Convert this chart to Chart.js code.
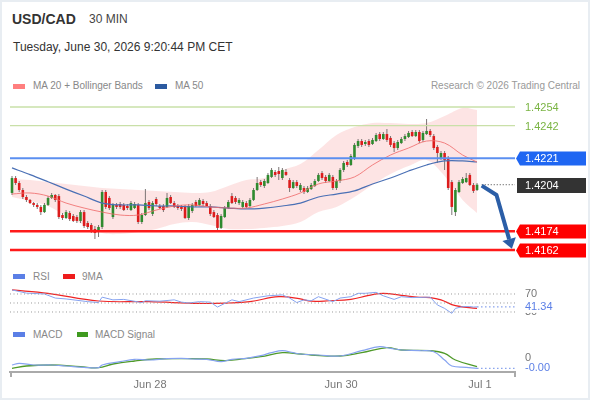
<!DOCTYPE html>
<html><head><meta charset="utf-8">
<script src="https://cdn.jsdelivr.net/npm/chart.js@4.4.1/dist/chart.umd.min.js"></script>
<style>
html,body{margin:0;padding:0;background:#fff;}
body{width:590px;height:400px;position:relative;overflow:hidden;font-family:"Liberation Sans",Arial,sans-serif;}
#frame{position:absolute;left:0;top:0;width:590px;height:400px;box-sizing:border-box;border:2px solid #e8edf2;pointer-events:none;z-index:5;}
.t{position:absolute;white-space:nowrap;line-height:1;}
.sw{position:absolute;width:12px;height:5px;}
canvas{position:absolute;left:0;}
</style></head>
<body>
<div id="frame"></div>
<div class="t" style="left:12px;top:12px;font-size:14px;font-weight:bold;color:#333">USD/CAD</div>
<div class="t" style="left:89px;top:13px;font-size:12px;color:#444">30 MIN</div>
<div class="t" style="left:13px;top:41px;font-size:12px;color:#333">Tuesday, June 30, 2026 9:20:44 PM CET</div>

<div class="sw" style="left:13px;top:84px;background:#ff7f7f"></div>
<div class="t" style="left:33px;top:81px;font-size:10px;color:#888">MA 20 + Bollinger Bands</div>
<div class="sw" style="left:155px;top:84px;background:#2c5aa0"></div>
<div class="t" style="left:175px;top:81px;font-size:10px;color:#888">MA 50</div>
<div class="t" style="right:10px;top:81px;font-size:10px;color:#999">Research © 2026 Trading Central</div>

<div class="sw" style="left:13px;top:274px;background:#5b7fe6"></div>
<div class="t" style="left:33px;top:272px;font-size:10px;color:#888">RSI</div>
<div class="sw" style="left:63px;top:274px;background:#ee1c1c"></div>
<div class="t" style="left:82px;top:272px;font-size:10px;color:#888">9MA</div>

<div class="sw" style="left:13px;top:332px;background:#5b7fe6"></div>
<div class="t" style="left:33px;top:329.5px;font-size:10px;color:#888">MACD</div>
<div class="sw" style="left:77px;top:332px;width:11px;background:#3f9a1f"></div>
<div class="t" style="left:95px;top:329.5px;font-size:10px;color:#888">MACD Signal</div>

<canvas id="main" width="590" height="167" style="top:95px;width:590px;height:167px"></canvas>
<canvas id="rsi" width="590" height="40" style="top:280px;width:590px;height:40px"></canvas>
<canvas id="macd" width="590" height="60" style="top:340px;width:590px;height:60px"></canvas>

<script>
// ---------- data ----------
const opens = [
1.41987,1.42083,1.42051,1.42006,1.41961,1.41942,1.41922,1.41910,1.41897,1.41864,
1.41910,1.41955,1.41974,1.41967,1.41845,1.41826,1.41858,1.41839,1.41832,1.41807,
1.41864,1.41794,1.41781,1.41755,1.41736,1.41768,1.41993,1.41955,1.41832,1.41910,
1.41916,1.41910,1.41903,1.41877,1.41890,1.41910,1.41800,1.41845,1.41929,1.41852,
1.41948,1.41903,1.41903,1.41897,1.41961,1.41922,1.41903,1.41897,1.41897,1.41826,
1.41871,1.41929,1.41910,1.41935,1.41922,1.41903,1.41864,1.41845,1.41762,1.41832,
1.41890,1.41967,1.41955,1.41922,1.41897,1.41922,1.41903,1.41942,1.42006,1.42057,
1.42032,1.42051,1.42090,1.42122,1.42128,1.42083,1.42122,1.42070,1.42019,1.42057,
1.42006,1.42019,1.41993,1.42012,1.42032,1.42064,1.42115,1.42090,1.42064,1.42090,
1.42019,1.42064,1.42135,1.42186,1.42167,1.42212,1.42289,1.42321,1.42302,1.42321,
1.42302,1.42321,1.42366,1.42334,1.42366,1.42341,1.42308,1.42276,1.42308,1.42334,
1.42347,1.42379,1.42353,1.42379,1.42328,1.42366,1.42386,1.42353,1.42283,1.42212,
1.42244,1.42212,1.42057,1.41864,1.41993,1.42051,1.42057,1.42103,1.42038,1.42006];
const highs = [
1.42096,1.42096,1.42064,1.42019,1.41974,1.41948,1.41929,1.41922,1.41910,1.41922,
1.41967,1.41987,1.41980,1.41980,1.41858,1.41877,1.41871,1.41852,1.41845,1.41877,
1.41877,1.41807,1.41794,1.41774,1.41781,1.42006,1.42006,1.41967,1.41922,1.41922,
1.41929,1.41922,1.41916,1.41935,1.41929,1.41922,1.41858,1.42012,1.41942,1.41935,
1.41961,1.41916,1.41916,1.41987,1.41974,1.41935,1.41916,1.41910,1.41910,1.41916,
1.41922,1.41942,1.41955,1.41948,1.41935,1.41916,1.41877,1.41858,1.41852,1.41903,
1.41942,1.41987,1.41967,1.41955,1.41942,1.41935,1.41955,1.42019,1.42090,1.42070,
1.42077,1.42115,1.42148,1.42135,1.42154,1.42148,1.42141,1.42083,1.42070,1.42070,
1.42051,1.42032,1.42032,1.42051,1.42077,1.42115,1.42128,1.42103,1.42115,1.42103,
1.42077,1.42148,1.42193,1.42199,1.42238,1.42308,1.42334,1.42334,1.42328,1.42334,
1.42341,1.42373,1.42379,1.42379,1.42398,1.42353,1.42321,1.42328,1.42347,1.42366,
1.42386,1.42392,1.42392,1.42392,1.42386,1.42463,1.42398,1.42366,1.42296,1.42257,
1.42257,1.42225,1.42070,1.42019,1.42070,1.42090,1.42115,1.42115,1.42051,1.42051];
const lows = [
1.41974,1.42038,1.41993,1.41948,1.41929,1.41916,1.41897,1.41884,1.41845,1.41858,
1.41903,1.41948,1.41929,1.41819,1.41813,1.41819,1.41807,1.41800,1.41794,1.41794,
1.41762,1.41755,1.41729,1.41691,1.41704,1.41755,1.41884,1.41877,1.41819,1.41884,
1.41884,1.41871,1.41877,1.41871,1.41884,1.41787,1.41787,1.41839,1.41877,1.41839,
1.41903,1.41884,1.41864,1.41890,1.41916,1.41890,1.41877,1.41871,1.41819,1.41813,
1.41858,1.41897,1.41903,1.41903,1.41897,1.41839,1.41826,1.41749,1.41755,1.41826,
1.41884,1.41916,1.41916,1.41910,1.41890,1.41890,1.41897,1.41935,1.42000,1.42025,
1.42019,1.42045,1.42083,1.42090,1.42070,1.42070,1.42096,1.41993,1.42012,1.42019,
1.41993,1.41980,1.41987,1.42006,1.42025,1.42057,1.42070,1.42051,1.42057,1.42006,
1.42006,1.42051,1.42122,1.42154,1.42160,1.42199,1.42276,1.42283,1.42289,1.42283,
1.42296,1.42315,1.42321,1.42328,1.42315,1.42283,1.42250,1.42263,1.42302,1.42321,
1.42341,1.42347,1.42347,1.42308,1.42315,1.42360,1.42347,1.42263,1.42180,1.42199,
1.42135,1.42006,1.41845,1.41839,1.41987,1.42045,1.42051,1.42032,1.41987,1.42000];
const closes = [
1.42083,1.42051,1.42006,1.41961,1.41942,1.41922,1.41910,1.41897,1.41864,1.41910,
1.41955,1.41974,1.41942,1.41832,1.41826,1.41864,1.41819,1.41807,1.41807,1.41864,
1.41774,1.41768,1.41749,1.41729,1.41768,1.41993,1.41897,1.41890,1.41910,1.41897,
1.41897,1.41877,1.41890,1.41922,1.41916,1.41800,1.41845,1.41922,1.41890,1.41922,
1.41916,1.41890,1.41877,1.41955,1.41922,1.41897,1.41890,1.41884,1.41826,1.41903,
1.41910,1.41903,1.41942,1.41916,1.41903,1.41852,1.41832,1.41762,1.41839,1.41890,
1.41929,1.41922,1.41929,1.41942,1.41929,1.41897,1.41942,1.42006,1.42051,1.42038,
1.42064,1.42103,1.42135,1.42103,1.42109,1.42135,1.42103,1.42019,1.42057,1.42032,
1.42038,1.41993,1.42019,1.42038,1.42064,1.42103,1.42083,1.42064,1.42103,1.42019,
1.42064,1.42135,1.42180,1.42167,1.42225,1.42296,1.42321,1.42296,1.42315,1.42296,
1.42328,1.42360,1.42334,1.42366,1.42328,1.42296,1.42276,1.42315,1.42334,1.42353,
1.42373,1.42353,1.42379,1.42321,1.42373,1.42386,1.42360,1.42276,1.42244,1.42244,
1.42199,1.42019,1.41897,1.42006,1.42057,1.42077,1.42083,1.42038,1.42000,1.42040];

const maIdx = [0,5,10,15,20,25,30,35,40,45,50,55,60,65,70,75,80,85,90,95,100,105,110,115,120,125,129];
const ma20 = [1.41980,1.41987,1.41967,1.41922,1.41890,1.41864,1.41845,1.41845,1.41877,1.41903,1.41910,1.41897,1.41890,1.41890,1.41916,1.41948,1.41987,1.42045,1.42064,1.42090,1.42167,1.42231,1.42276,1.42321,1.42308,1.42231,1.42186];
const ma50 = [1.42148,1.42105,1.42059,1.42012,1.41967,1.41922,1.41910,1.41910,1.41903,1.41903,1.41897,1.41897,1.41890,1.41884,1.41890,1.41903,1.41922,1.41961,1.41980,1.42000,1.42045,1.42083,1.42128,1.42167,1.42193,1.42193,1.42186];
const bbUpper = [1.42077,1.42070,1.42057,1.42045,1.42032,1.42019,1.42012,1.42006,1.42000,1.41993,1.41987,1.41993,1.42032,1.42070,1.42083,1.42135,1.42173,1.42263,1.42360,1.42411,1.42437,1.42437,1.42431,1.42437,1.42482,1.42534,1.42521];
const bbLower = [1.41961,1.41935,1.41903,1.41839,1.41781,1.41729,1.41723,1.41736,1.41755,1.41787,1.41800,1.41781,1.41755,1.41755,1.41762,1.41774,1.41800,1.41864,1.41897,1.41961,1.42038,1.42109,1.42160,1.42199,1.42096,1.41942,1.41858];

const levels = [1.4254, 1.4242, 1.4221, 1.4174, 1.4162];
const levelKinds = ['target', 'target', 'pivot', 'support', 'support'];
const arrowIdx = [130.3, 134.4, 137.9];
const arrowPrice = [1.42034, 1.41974, 1.41690];

const rsiIdx = [0,4,9,12,15,21,24,25,28,31,36,37,41,45,47,49,52,55,57,60,61,63,67,71,75,77,79,81,83,85,89,91,94,96,98,101,103,106,108,111,114,116,118,120,122,123,125,127,128,129];
const rsiVal = [79,72,70,61,59,53,51,63,57,58,51,55,54,57,52,50,53,52,41,53,57,53,61,66,68,61,51,57,55,64,53,61,64,71.5,71.5,73.7,66,58,64,62,62.6,63,45.6,38,27,38,42,42,41,41.34];
const rsiMaIdx = [0,10,24,38,52,60,66,74,80,83,88,94,99,103,108,113,116,119,123,129];
const rsiMaVal = [79,71.5,54.4,53,49,50,53,64,59,54,55,58,67,71.5,67,62.6,62,57,44,38];
const rsiLevels = [70, 50, 30];

const macdIdx = [0,2,6,11,15,20,24,25,30,34,38,43,47,50,54,58,61,65,69,72,75,78,80,85,91,97,102,105,108,113,117,120,122,126,129];
const macdVal = [-0.000140,-0.000106,-0.000140,-0.000140,-0.000160,-0.000186,-0.000194,-0.000140,-0.000074,-0.000026,-0.000040,-0.000014,-0.000006,-0.000020,-0.000026,-0.000074,-0.000026,-0.000006,0.000046,0.000106,0.000146,0.000106,0.000080,0.000060,0.000040,0.000146,0.000226,0.000194,0.000160,0.000146,0.000126,-0.000040,-0.000160,-0.000186,-0.000206];
const sigIdx = [0,4,11,19,24,28,34,40,47,54,59,63,69,75,80,83,91,97,104,108,116,120,123,129];
const sigVal = [-0.000206,-0.000160,-0.000140,-0.000174,-0.000194,-0.000120,-0.000060,-0.000020,-0.000014,-0.000020,-0.000054,-0.000026,0.000026,0.000106,0.000080,0.000060,0.000040,0.000106,0.000206,0.000160,0.000146,0.000094,-0.000040,-0.000174];

const dateLabels = ['Jun 28', 'Jun 30', 'Jul 1'];
const dateTickIdx = [38.3, 91.3, 129.8];

// ---------- helpers ----------
const FONT = '"Liberation Sans", Arial, sans-serif';
Chart.defaults.font.family = FONT;
const XMIN = -0.555, XMAX = 139.53;
const pts = (xs, ys) => xs.map((x, k) => ({x: x, y: ys[k]}));
const hline = (v, x0) => [{x: x0 === undefined ? XMIN : x0, y: v}, {x: XMAX, y: v}];
const idx = closes.map((_, i) => i);
const isUp = closes.map((c, i) => c >= opens[i]);
const lastClose = closes[closes.length - 1];
const lastRsi = rsiVal[rsiVal.length - 1];
const lastMacd = macdVal[macdVal.length - 1];
const hiddenX = {type: 'linear', min: XMIN, max: XMAX, display: false, offset: false};
const baseOpts = (ymin, ymax, extra) => Object.assign({
  responsive: false, animation: false, devicePixelRatio: 1,
  layout: {padding: {left: 10, right: 75, top: 0, bottom: 0}},
  plugins: {legend: {display: false}, tooltip: {enabled: false}},
  scales: {x: hiddenX, y: {type: 'linear', min: ymin, max: ymax, display: false}},
  elements: {point: {radius: 0}}
}, extra || {});
const lineDs = (data, color, width, more) => Object.assign({
  type: 'line', data: data, borderColor: color, borderWidth: width,
  pointRadius: 0, fill: false, tension: 0
}, more || {});

// ---------- main price panel ----------
const levelColor = {target: '#c9e0a8', pivot: '#5b8ff0', support: '#ff1a1a'};
const levelWidth = {target: 1.3, pivot: 2, support: 2.5};
const mainDeco = {
  id: 'mainDeco',
  afterDraw(chart) {
    const {ctx, chartArea: ca, scales: {y}} = chart;
    ctx.save();
    // arrow head
    const meta = chart.getDatasetMeta(chart.data.datasets.length - 1);
    const p = meta.data, a = p[p.length - 2], b = p[p.length - 1];
    let dx = b.x - a.x, dy = b.y - a.y; const L = Math.hypot(dx, dy); dx /= L; dy /= L;
    ctx.fillStyle = '#2b5ea7';
    ctx.beginPath();
    ctx.moveTo(b.x + dx * 10, b.y + dy * 10);
    ctx.lineTo(b.x - dy * 7, b.y + dx * 7);
    ctx.lineTo(b.x + dy * 7, b.y - dx * 7);
    ctx.closePath(); ctx.fill();
    // right labels
    ctx.font = '11px ' + FONT;
    ctx.textBaseline = 'middle';
    const R = chart.width - 4, tx = ca.right + 10;
    levels.forEach((lv, k) => {
      const yy = Math.round(y.getPixelForValue(lv)) + 0.5;
      const kind = levelKinds[k];
      if (kind === 'target') {
        ctx.fillStyle = '#7ab443';
      } else {
        ctx.fillStyle = kind === 'pivot' ? '#1f66f2' : '#ff0000';
        ctx.beginPath();
        ctx.moveTo(ca.right + 1, yy);
        ctx.lineTo(ca.right + 5, yy - 7);
        ctx.lineTo(R, yy - 7);
        ctx.lineTo(R, yy + 7);
        ctx.lineTo(ca.right + 5, yy + 7);
        ctx.closePath(); ctx.fill();
        ctx.fillStyle = '#fff';
      }
      ctx.fillText(lv.toFixed(4), tx, yy + 0.5);
    });
    const yc = Math.round(y.getPixelForValue(lastClose)) + 0.5;
    ctx.fillStyle = '#333';
    ctx.fillRect(ca.right + 2, yc - 7.5, R - ca.right - 2, 15);
    ctx.fillStyle = '#fff';
    ctx.fillText(lastClose.toFixed(4), tx, yc + 0.5);
    ctx.restore();
  }
};

const mainDatasets = [
  lineDs(pts(maIdx, bbUpper), 'rgba(0,0,0,0)', 1, {tension: 0.35, order: 6}),
  lineDs(pts(maIdx, bbLower), 'rgba(0,0,0,0)', 1, {tension: 0.35, order: 6, fill: '-1', backgroundColor: 'rgba(250,180,180,0.36)'}),
  {type: 'bar', data: idx.map(i => ({x: i, y: [lows[i], highs[i]]})), backgroundColor: '#7d7575',
   grouped: false, maxBarThickness: 1, borderWidth: 0, order: 5},
  {type: 'bar', data: idx.map(i => ({x: i, y: [opens[i], closes[i]]})),
   backgroundColor: isUp.map(u => u ? '#2f8a2f' : '#dc1c1c'),
   grouped: false, maxBarThickness: 2.8, minBarLength: 1, borderWidth: 0, order: 4},
  lineDs(pts(maIdx, ma20), 'rgba(240,110,110,0.85)', 1, {tension: 0.35, order: 3}),
  lineDs(pts(maIdx, ma50), '#4a70b5', 1.2, {tension: 0.35, order: 3})
];
levels.forEach((lv, k) => {
  const kind = levelKinds[k];
  mainDatasets.push(lineDs(hline(lv), levelColor[kind], levelWidth[kind], {order: 2}));
});
mainDatasets.push(lineDs(hline(lastClose, arrowIdx[0]), '#444', 1, {borderDash: [1, 2], order: 2}));
mainDatasets.push(lineDs(pts(arrowIdx, arrowPrice), '#2b5ea7', 4, {order: 1, borderJoinStyle: 'round', borderCapStyle: 'butt'}));

const yMaxMain = 1.426172, yMinMain = 1.415428;
new Chart(document.getElementById('main'), {
  type: 'line',
  data: {datasets: mainDatasets},
  options: baseOpts(yMinMain, yMaxMain),
  plugins: [mainDeco]
});

// ---------- RSI panel ----------
const rsiDeco = {
  id: 'rsiDeco',
  afterDraw(chart) {
    const {ctx, chartArea: ca, scales: {y}} = chart;
    ctx.save();
    ctx.font = '11px ' + FONT;
    ctx.textBaseline = 'middle';
    const tx = ca.right + 10;
    ctx.fillStyle = '#777';
    ctx.fillText(String(rsiLevels[0]), tx, y.getPixelForValue(rsiLevels[0]));
    ctx.fillText(String(rsiLevels[2]), tx, y.getPixelForValue(rsiLevels[2]));
    const yv = y.getPixelForValue(lastRsi);
    ctx.fillStyle = '#fff';
    ctx.fillRect(ca.right + 3, yv - 6, 60, 12);
    ctx.fillStyle = '#5b7fe6';
    ctx.fillText(lastRsi.toFixed(2), tx, yv);
    ctx.restore();
  }
};
const rsiDatasets = rsiLevels.map(l => lineDs(hline(l), '#9a9a9a', 1, {borderDash: [1, 2.5]}));
rsiDatasets.push(lineDs(hline(lastRsi, rsiIdx[rsiIdx.length - 1]), '#6a8be8', 1, {borderDash: [1.5, 2.5]}));
rsiDatasets.push(lineDs(pts(rsiIdx, rsiVal), '#86a3f0', 1));
rsiDatasets.push(lineDs(pts(rsiMaIdx, rsiMaVal), '#ef2424', 1.2, {tension: 0.4}));
new Chart(document.getElementById('rsi'), {
  type: 'line',
  data: {datasets: rsiDatasets},
  options: baseOpts(12.22, 101.11),
  plugins: [rsiDeco]
});

// ---------- MACD panel ----------
const macdDeco = {
  id: 'macdDeco',
  afterDraw(chart) {
    const {ctx, chartArea: ca, scales: {y}} = chart;
    ctx.save();
    ctx.strokeStyle = '#aaa'; ctx.lineWidth = 2;
    ctx.beginPath();
    ctx.moveTo(ca.left + 1, ca.bottom); ctx.lineTo(ca.left + 1, ca.bottom + 5);
    ctx.moveTo(ca.right, ca.bottom); ctx.lineTo(ca.right, ca.bottom + 5);
    ctx.stroke();
    ctx.font = '11px ' + FONT;
    ctx.textBaseline = 'middle';
    const tx = ca.right + 10;
    ctx.fillStyle = '#777';
    ctx.fillText('0', tx, y.getPixelForValue(0));
    ctx.fillStyle = '#5b7fe6';
    ctx.fillText(lastMacd.toFixed(2), tx, y.getPixelForValue(lastMacd));
    ctx.restore();
  }
};
const macdDatasets = [
  lineDs(hline(lastMacd, macdIdx[macdIdx.length - 1]), '#6a8be8', 1, {borderDash: [1.5, 2.5]}),
  lineDs(pts(macdIdx, macdVal), '#86a3f0', 1.2, {tension: 0.4}),
  lineDs(pts(sigIdx, sigVal), '#4f9a2a', 1.3, {tension: 0.4})
];
const macdOpts = baseOpts(-0.00028, 0.00036);
macdOpts.scales.x = {
  type: 'linear', min: XMIN, max: XMAX, offset: false, display: true,
  grid: {display: false, drawTicks: false},
  border: {display: true, color: '#aaa', width: 2},
  afterBuildTicks: (scale) => { scale.ticks = dateTickIdx.map(v => ({value: v})); },
  afterFit: (scale) => { scale.height = 28; },
  ticks: {autoSkip: false, maxRotation: 0, minRotation: 0, padding: 6, color: '#777',
          font: {size: 11}, callback: (v, i) => dateLabels[i]}
};
new Chart(document.getElementById('macd'), {
  type: 'line',
  data: {datasets: macdDatasets},
  options: macdOpts,
  plugins: [macdDeco]
});
</script>
</body></html>
